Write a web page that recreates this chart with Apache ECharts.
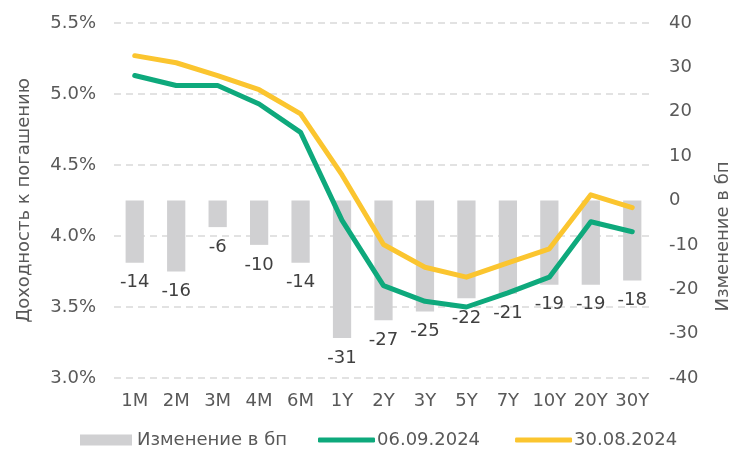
<!DOCTYPE html>
<html><head><meta charset="utf-8">
<script src="https://cdn.jsdelivr.net/npm/echarts@6/dist/echarts.min.js"></script>
<style>html,body{margin:0;padding:0;background:#fff}#c{width:745px;height:451px}</style>
</head><body><div id="c"></div>
<script>
const categories = ['1M','2M','3M','4M','6M','1Y','2Y','3Y','5Y','7Y','10Y','20Y','30Y'];
const changeBp = [-14,-16,-6,-10,-14,-31,-27,-25,-22,-21,-19,-19,-18];
const yield0609 = [5.13,5.06,5.06,4.93,4.73,4.11,3.65,3.54,3.50,3.60,3.71,4.10,4.03];
const yield3008 = [5.27,5.22,5.13,5.03,4.86,4.43,3.94,3.78,3.71,3.81,3.91,4.29,4.20];
const seriesNames = ['Изменение в бп','06.09.2024','30.08.2024'];

const font = 'DejaVu Sans, Verdana, sans-serif';
const txt = '#595959';
const fs = 18;
const chart = echarts.init(document.getElementById('c'), null, {renderer:'canvas'});
chart.setOption({
  animation:false,
  textStyle:{fontFamily:font},
  grid:{left:114,right:92,top:23,bottom:73,containLabel:false},
  legend:[{
    top:426,left:75,
    itemWidth:52,itemHeight:11,
    textStyle:{fontFamily:font,fontSize:fs,color:txt},
    data:[{name:seriesNames[0],icon:'rect'}]
  },{
    top:426,left:313,
    itemWidth:57,itemHeight:5,itemGap:35,icon:'roundRect',
    textStyle:{fontFamily:font,fontSize:fs,color:txt,padding:[0,0,0,-3]},
    data:[seriesNames[1],seriesNames[2]]
  }],
  xAxis:{
    type:'category',data:categories,
    axisLine:{show:false},axisTick:{show:false},
    axisLabel:{color:txt,fontSize:fs,fontFamily:font,margin:14,interval:0}
  },
  yAxis:[{
    type:'value',min:3.0,max:5.5,interval:0.5,position:'left',
    name:'Доходность к погашению',nameLocation:'middle',nameRotate:90,nameGap:81,
    nameTextStyle:{color:txt,fontSize:fs,fontFamily:font},
    axisLine:{show:false},axisTick:{show:false},
    axisLabel:{color:txt,fontSize:fs,fontFamily:font,margin:18,formatter:v=>v.toFixed(1)+'%'},
    splitLine:{lineStyle:{color:'#d9d9d9',type:[7,5],width:1.5}}
  },{
    type:'value',min:-40,max:40,interval:10,position:'right',
    name:'Изменение в бп',nameLocation:'middle',nameRotate:90,nameGap:61,
    nameTextStyle:{color:txt,fontSize:fs,fontFamily:font,padding:[0,72,0,0]},
    axisLine:{show:false},axisTick:{show:false},
    axisLabel:{color:txt,fontSize:fs,fontFamily:font,margin:16},
    splitLine:{show:false}
  }],
  series:[{
    name:seriesNames[0],type:'bar',yAxisIndex:1,data:changeBp,barWidth:'44%',
    itemStyle:{color:'#d0d0d2'},
    label:{show:true,position:'bottom',distance:11,color:'#404040',fontSize:fs,fontFamily:font}
  },{
    name:seriesNames[1],type:'line',yAxisIndex:0,data:yield0609,symbol:'none',
    lineStyle:{color:'#0ea97c',width:5,cap:'round',join:'round'},itemStyle:{color:'#0ea97c'}
  },{
    name:seriesNames[2],type:'line',yAxisIndex:0,data:yield3008,symbol:'none',
    lineStyle:{color:'#fbc52f',width:5,cap:'round',join:'round'},itemStyle:{color:'#fbc52f'}
  }]
});
</script></body></html>
